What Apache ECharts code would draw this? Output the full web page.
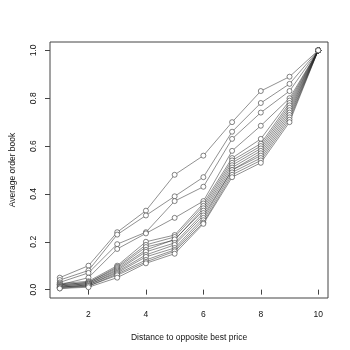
<!DOCTYPE html>
<html>
<head>
<meta charset="utf-8">
<script src="https://cdn.jsdelivr.net/npm/echarts@6/dist/echarts.min.js"></script>
<style>
html, body { margin: 0; padding: 0; background: #fff; }
#chart { width: 350px; height: 350px; }
</style>
</head>
<body>
<div id="chart"></div>
<script>
// distance levels on the x axis
var distances = [1, 2, 3, 4, 5, 6, 7, 8, 9, 10];

// average order book curves, one per stock
var s01 = [0.05, 0.10, 0.24, 0.33, 0.48, 0.56, 0.70, 0.83, 0.89, 1];
var s02 = [0.04, 0.08, 0.23, 0.31, 0.39, 0.47, 0.66, 0.78, 0.86, 1];
var s03 = [0.03, 0.07, 0.19, 0.24, 0.37, 0.43, 0.63, 0.74, 0.83, 1];
var s04 = [0.02, 0.05, 0.17, 0.235, 0.30, 0.37, 0.58, 0.685, 0.80, 1];
var s05 = [0.025, 0.035, 0.10, 0.20, 0.228, 0.36, 0.55, 0.63, 0.79, 1];
var s06 = [0.02, 0.03, 0.095, 0.187, 0.22, 0.35, 0.54, 0.61, 0.78, 1];
var s07 = [0.02, 0.03, 0.09, 0.178, 0.207, 0.34, 0.53, 0.60, 0.77, 1];
var s08 = [0.015, 0.025, 0.085, 0.166, 0.21, 0.33, 0.52, 0.59, 0.76, 1];
var s09 = [0.015, 0.025, 0.08, 0.158, 0.195, 0.32, 0.51, 0.58, 0.75, 1];
var s10 = [0.01, 0.02, 0.075, 0.145, 0.187, 0.31, 0.50, 0.57, 0.74, 1];
var s11 = [0.01, 0.02, 0.07, 0.137, 0.174, 0.30, 0.50, 0.56, 0.73, 1];
var s12 = [0.01, 0.015, 0.065, 0.124, 0.166, 0.29, 0.49, 0.55, 0.72, 1];
var s13 = [0.005, 0.015, 0.06, 0.116, 0.16, 0.28, 0.48, 0.54, 0.71, 1];
var s14 = [0.005, 0.01, 0.05, 0.11, 0.15, 0.275, 0.47, 0.53, 0.70, 1];
var curves = [s01, s02, s03, s04, s05, s06, s07, s08, s09, s10, s11, s12, s13, s14];

// tick labels
var xTicks = [2, 4, 6, 8, 10];
var yTicks = [0, 0.2, 0.4, 0.6, 0.8, 1.0];

var font = 'Liberation Sans, Arial, sans-serif';
var chart = echarts.init(document.getElementById('chart'));

var series = curves.map(function (c) {
    return {
        type: 'line',
        data: c.map(function (v, i) { return [distances[i], v]; }),
        symbol: 'circle',
        symbolSize: 5,
        lineStyle: { color: '#222', width: 0.5 },
        itemStyle: { color: '#fff', borderColor: '#333', borderWidth: 0.6 },
        emphasis: { disabled: true },
        animation: false
    };
});

chart.setOption({
    backgroundColor: '#fff',
    animation: false,
    grid: {
        left: 42, right: 22, top: 42, bottom: 52,
        show: true,
        borderColor: '#444',
        borderWidth: 1,
        backgroundColor: 'transparent'
    },
    xAxis: {
        type: 'value',
        min: 0.66,
        max: 10.34,
        name: 'Distance to opposite best price',
        nameLocation: 'middle',
        nameGap: 35,
        nameTextStyle: { color: '#111', fontFamily: font, fontSize: 8.5 },
        axisLine: { show: false },
        axisTick: { show: true, length: 5, customValues: xTicks, lineStyle: { color: '#444' } },
        axisLabel: { customValues: xTicks, color: '#111', fontFamily: font, fontSize: 8.5, margin: 12 },
        splitLine: { show: false }
    },
    yAxis: {
        type: 'value',
        min: -0.035,
        max: 1.035,
        name: 'Average order book',
        nameLocation: 'middle',
        nameGap: 33,
        nameTextStyle: { color: '#111', fontFamily: font, fontSize: 8.5 },
        axisLine: { show: false },
        axisTick: { show: true, length: 5, customValues: yTicks, lineStyle: { color: '#444' } },
        axisLabel: {
            customValues: yTicks,
            rotate: 90,
            color: '#111',
            fontFamily: font,
            fontSize: 8.5,
            margin: 12,
            formatter: function (v) { return v.toFixed(1); }
        },
        splitLine: { show: false }
    },
    series: series
});
</script>
</body>
</html>
